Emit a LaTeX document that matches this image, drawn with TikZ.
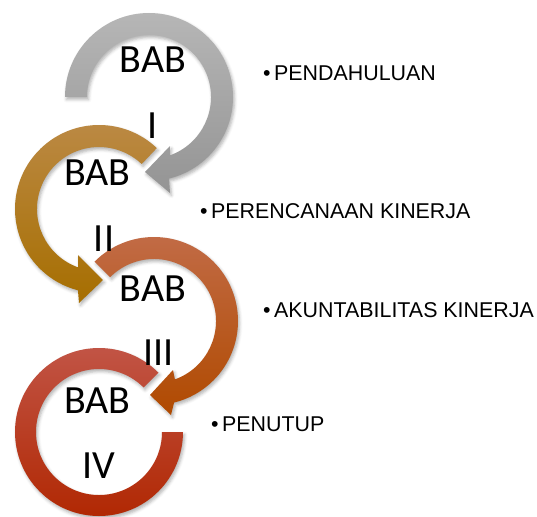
\documentclass[tikz,border=0pt]{standalone}
\usepackage{fontspec}
\setmainfont{Liberation Sans}
\newfontfamily\babfont{Carlito}
\usetikzlibrary{shadows.blur}
\definecolor{grayT}{RGB}{182,182,182}
\definecolor{grayB}{RGB}{148,148,148}
\definecolor{goldT}{RGB}{188,138,70}
\definecolor{goldB}{RGB}{166,110,0}
\definecolor{orT}{RGB}{194,108,72}
\definecolor{orB}{RGB}{176,74,0}
\definecolor{redT}{RGB}{194,86,72}
\definecolor{redB}{RGB}{176,38,0}
\begin{document}
\begin{tikzpicture}[x=1pt,y=1pt,
  ring/.style={blur shadow={shadow xshift=1.5pt,shadow yshift=-2.5pt,shadow blur radius=3pt,shadow opacity=30}},
  bab/.style={font=\babfont\fontsize{40}{40}\selectfont, inner sep=0pt, anchor=base},
  item/.style={font=\fontsize{21.4}{21.4}\selectfont, inner sep=0pt, anchor=base west}]
\useasboundingbox (0,0) rectangle (537,-516);

% grey arrow (BAB I)
\begin{scope}[shift={(149,-97)}]
\path[ring, top color=grayT, bottom color=grayB]
  (180:84pt) arc[start angle=180,end angle=-76.2,radius=84pt]
  -- (21,-96) -- (-4,-75) -- (21,-49) -- (-70.3:62pt)
  arc[start angle=-70.3,end angle=180,radius=62pt] -- cycle;
\end{scope}

% gold arrow (BAB II)
\begin{scope}[shift={(99,-209)}]
\path[ring, top color=goldT, bottom color=goldB]
  (46.5:84pt) arc[start angle=46.5,end angle=255.5,radius=84pt]
  -- (-20,-94) -- (4,-71) -- (-21,-46) -- (250.3:62pt)
  arc[start angle=250.3,end angle=46.5,radius=62pt] -- cycle;
\end{scope}

% orange arrow (BAB III)
\begin{scope}[shift={(154,-321)}]
\path[ring, top color=orT, bottom color=orB]
  (135:84pt) arc[start angle=135,end angle=-76.2,radius=84pt]
  -- (17,-94) -- (-4,-74) -- (19,-49) -- (-70.3:62pt)
  arc[start angle=-70.3,end angle=135,radius=62pt] -- cycle;
\end{scope}

% red ring (BAB IV)
\begin{scope}[shift={(99,-432)}]
\path[ring, top color=redT, bottom color=redB]
  (45:84pt) arc[start angle=45,end angle=360,radius=84pt]
  -- (0:63pt) arc[start angle=360,end angle=45,radius=63pt] -- cycle;
\end{scope}

\node[bab] (b1) at (153,-73) {BAB};
\node[bab] (n1) at (153,-138) {I};
\node[bab] (b2) at (97.5,-185) {BAB};
\node[bab] (n2) at (104,-251) {II};
\node[bab] (b3) at (153,-301) {BAB};
\node[bab] (n3) at (158.5,-365) {III};
\node[bab] (b4) at (97.5,-413) {BAB};
\node[bab] (n4) at (98.5,-478) {IV};

\node[item] (t1) at (263,-81) {•\hspace{3.5pt}PENDAHULUAN};
\node[item] (t2) at (200,-218) {•\hspace{3.5pt}PERENCANAAN KINERJA};
\node[item] (t3) at (263,-317) {•\hspace{3.5pt}AKUNTABILITAS KINERJA};
\node[item] (t4) at (211,-431) {•\hspace{3.5pt}PENUTUP};
\end{tikzpicture}
\end{document}
